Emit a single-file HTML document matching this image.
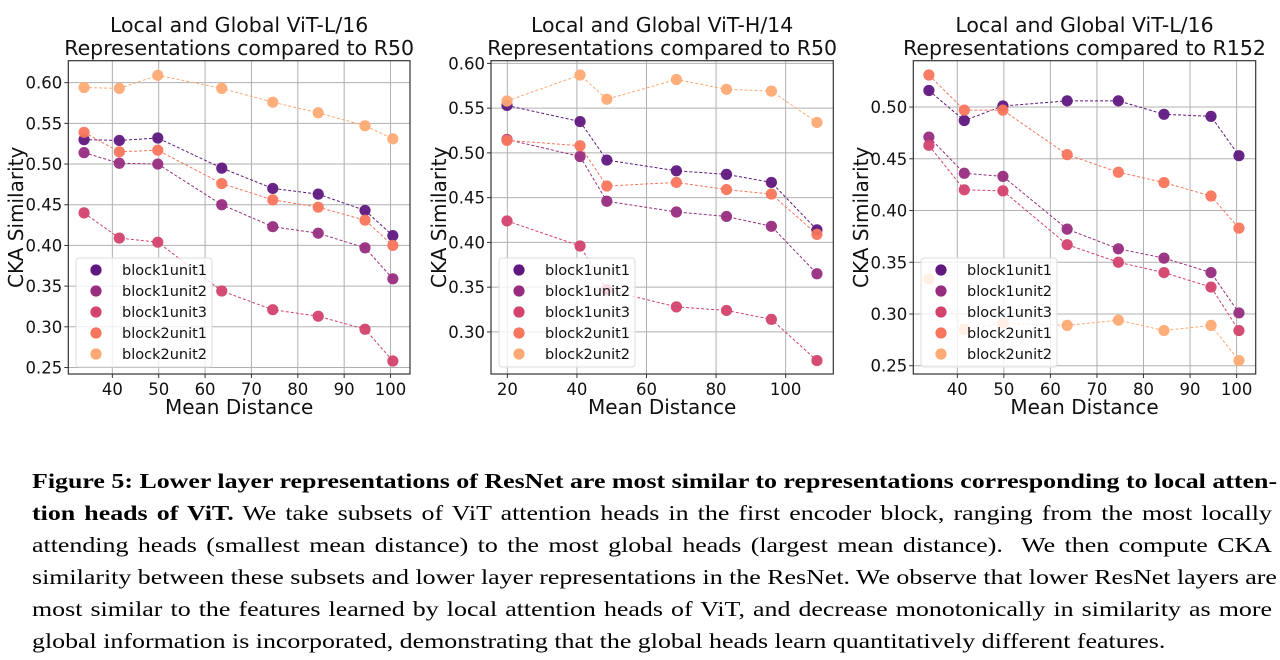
<!DOCTYPE html>
<html><head><meta charset="utf-8">
<style>
body{margin:0;width:1280px;height:660px;background:#fff;overflow:hidden;position:relative;font-family:"DejaVu Sans","Liberation Sans",sans-serif;}
svg{position:absolute;left:0;top:0;}
#cap{position:absolute;left:32px;top:465px;width:1029px;font-family:"Liberation Serif",serif;font-size:21.5px;line-height:32px;color:#000;transform:scaleX(1.205);transform-origin:0 0;}
#cap div{text-align:justify;text-align-last:justify;white-space:nowrap;}
#cap div.last{text-align-last:left;}
</style></head><body>
<svg id="fig" width="1268" height="420"></svg>
<div id="cap">
<div><b>Figure 5: Lower layer representations of ResNet are most similar to representations corresponding to local atten-</b></div>
<div><b>tion heads of ViT.</b> We take subsets of ViT attention heads in the first encoder block, ranging from the most locally</div>
<div>attending heads (smallest mean distance) to the most global heads (largest mean distance).&nbsp; We then compute CKA</div>
<div>similarity between these subsets and lower layer representations in the ResNet. We observe that lower ResNet layers are</div>
<div>most similar to the features learned by local attention heads of ViT, and decrease monotonically in similarity as more</div>
<div class="last">global information is incorporated, demonstrating that the global heads learn quantitatively different features.</div>
</div>
<script>
const seriesNames = ["block1unit1","block1unit2","block1unit3","block2unit1","block2unit2"];
const colors = ["#5f187f","#982d80","#d3436e","#f8765c","#feaa74"];
const xA = [33.9,41.5,49.8,63.6,74.6,84.4,94.5,100.5];
const xB = [19.9,40.9,48.6,68.6,83,95.9,109];
const a_b1u1 = [.530,.529,.532,.495,.470,.463,.443,.412];
const a_b1u2 = [.514,.501,.500,.450,.423,.415,.397,.359];
const a_b1u3 = [.440,.409,.404,.344,.321,.313,.297,.258];
const a_b2u1 = [.539,.515,.517,.476,.456,.447,.431,.400];
const a_b2u2 = [.594,.593,.609,.593,.576,.563,.547,.531];
const b_b1u1 = [.553,.535,.492,.480,.476,.467,.414];
const b_b1u2 = [.515,.496,.446,.434,.429,.418,.365];
const b_b1u3 = [.424,.396,.347,.328,.324,.314,.268];
const b_b2u1 = [.514,.508,.463,.467,.459,.454,.409];
const b_b2u2 = [.558,.587,.560,.582,.571,.569,.534];
const c_b1u1 = [.516,.487,.501,.506,.506,.493,.491,.453];
const c_b1u2 = [.471,.436,.433,.382,.363,.354,.340,.301];
const c_b1u3 = [.463,.420,.419,.367,.350,.340,.326,.284];
const c_b2u1 = [.531,.497,.497,.454,.437,.427,.414,.383];
const c_b2u2 = [.334,.285,.291,.289,.294,.284,.289,.255];
const xTicksA = [40,50,60,70,80,90,100];
const xTicksB = [20,40,60,80,100];
const yTicksA = [0.25,0.30,0.35,0.40,0.45,0.50,0.55,0.60];
const yTicksB = [0.30,0.35,0.40,0.45,0.50,0.55,0.60];
const yTicksC = [0.25,0.30,0.35,0.40,0.45,0.50];

const NS="http://www.w3.org/2000/svg";
const svg=document.getElementById('fig');
function mk(tag,attrs,parent){const e=document.createElementNS(NS,tag);for(const k in attrs)e.setAttribute(k,attrs[k]);(parent||svg).appendChild(e);return e;}

function chart(cfg){
  const g=mk('g',{});
  
  
  const {L,R,T,B,xmin,xmax,ymin,ymax}=cfg;
  const sx=v=>L+(v-xmin)/(xmax-xmin)*(R-L);
  const sy=v=>B-(v-ymin)/(ymax-ymin)*(B-T);
  cfg.xticks.forEach(t=>{
    const l=mk('line',{x1:sx(t),x2:sx(t),y1:T,y2:B,stroke:'#b0b0b0','stroke-width':1},g);
    
    
    mk('line',{x1:sx(t),x2:sx(t),y1:B,y2:B+4,stroke:'#333','stroke-width':1},g);
    const tx=mk('text',{x:sx(t),y:B+21,'text-anchor':'middle','font-size':16.5,fill:'#111'},g);
    tx.textContent=t;
    
    
  });
  cfg.yticks.forEach(t=>{
    const l=mk('line',{x1:L,x2:R,y1:sy(t),y2:sy(t),stroke:'#b0b0b0','stroke-width':1},g);
    
    
    mk('line',{x1:L-4,x2:L,y1:sy(t),y2:sy(t),stroke:'#333','stroke-width':1},g);
    const tx=mk('text',{x:L-6,y:sy(t)+6,'text-anchor':'end','font-size':16.5,fill:'#111'},g);
    tx.textContent=t.toFixed(2);
    
    
  });
  cfg.series.forEach((vals,i)=>{
    const pts=vals.map((v,j)=>sx(cfg.x[j])+','+sy(v)).join(' ');
    const pl=mk('polyline',{points:pts,fill:'none',stroke:colors[i],'stroke-width':1,'stroke-dasharray':'3,2'},g);
    
    
  });
  cfg.series.forEach((vals,i)=>{
    vals.forEach((v,j)=>{
      const c=mk('circle',{cx:sx(cfg.x[j]),cy:sy(v),r:5.6,fill:colors[i],'fill-opacity':0.95},g);
      
      
    });
  });
  const fr=mk('rect',{x:L,y:T,width:R-L,height:B-T,fill:'none',stroke:'#333','stroke-width':1.2},g);
  
  
  const lg=mk('g',{},g);
  
  
  const lx=cfg.legX, ly=258;
  mk('rect',{x:lx,y:ly,width:136,height:109,rx:3,fill:'#fff','fill-opacity':0.8,stroke:'#ddd'},lg);
  seriesNames.forEach((n,i)=>{
    const e=mk('g',{},lg);
    
    
    mk('circle',{cx:lx+20,cy:ly+12+i*21,r:5.6,fill:colors[i]},e);
    const t=mk('text',{x:lx+46,y:ly+17+i*21,'font-size':14.5,fill:'#111'},e);
    t.textContent=n;
  });
  const cx=(L+R)/2;
  cfg.title.forEach((s,k)=>{
    const t=mk('text',{x:cx,y:32+k*23,'text-anchor':'middle','font-size':20.5,fill:'#111'},g);
    t.textContent=s;
    
    
  });
  const xl=mk('text',{x:cx,y:414,'text-anchor':'middle','font-size':20,fill:'#111'},g);
  xl.textContent='Mean Distance';
  
  
  const yl=mk('text',{x:0,y:0,'text-anchor':'middle','font-size':20,fill:'#111',transform:`translate(${cfg.ylx},${(T+B)/2}) rotate(-90)`},g);
  yl.textContent='CKA Similarity';
  
  
}

chart({name:'chart-vit-l16-r50',L:68.3,R:410,T:60.7,B:374,xmin:30.5,xmax:104.2,ymin:0.242,ymax:0.627,
  x:xA,series:[a_b1u1,a_b1u2,a_b1u3,a_b2u1,a_b2u2],xticks:xTicksA,yticks:yTicksA,legX:76,ylx:23,
  title:['Local and Global ViT-L/16','Representations compared to R50']});
chart({name:'chart-vit-h14-r50',L:491,R:833.3,T:60.7,B:374,xmin:15.3,xmax:113.7,ymin:0.253,ymax:0.603,
  x:xB,series:[b_b1u1,b_b1u2,b_b1u3,b_b2u1,b_b2u2],xticks:xTicksB,yticks:yTicksB,legX:499,ylx:446,
  title:['Local and Global ViT-H/14','Representations compared to R50']});
chart({name:'chart-vit-l16-r152',L:913.3,R:1255.7,T:60.7,B:374,xmin:30.55,xmax:104.1,ymin:0.242,ymax:0.5448,
  x:xA,series:[c_b1u1,c_b1u2,c_b1u3,c_b2u1,c_b2u2],xticks:xTicksA,yticks:yTicksC,legX:921,ylx:868,
  title:['Local and Global ViT-L/16','Representations compared to R152']});
</script>
</body></html>
